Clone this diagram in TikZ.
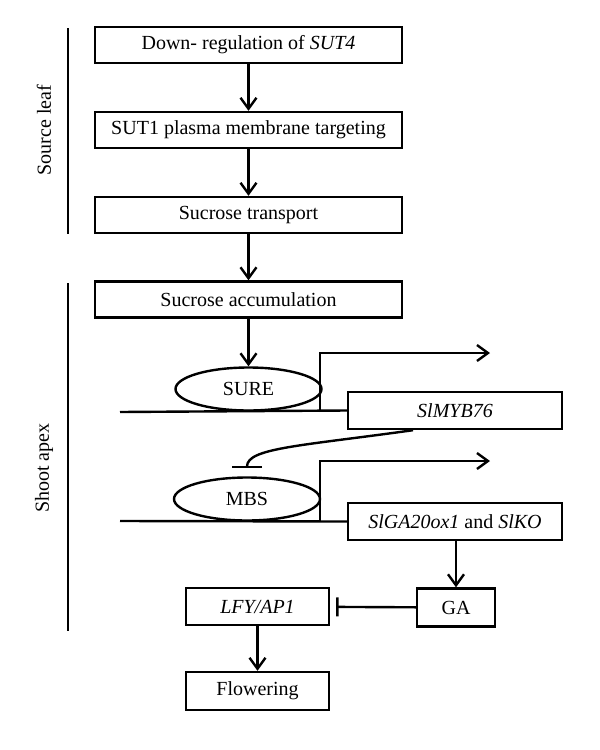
\documentclass[tikz,border=0pt]{standalone}
\usepackage{fontspec}
\setmainfont{Liberation Serif}
\usetikzlibrary{shapes.geometric,arrows.meta}
\begin{document}
\begin{tikzpicture}[x=1pt, y=-1pt, line width=2.4pt, font=\fontsize{20}{24}\selectfont,
  step box/.style={rectangle,draw,minimum width=307pt,minimum height=36pt,inner sep=0pt},
  gene box/.style={rectangle,draw,minimum width=214pt,minimum height=37pt,inner sep=0pt},
  small box/.style={rectangle,draw,minimum height=38pt,inner sep=0pt},
  site node/.style={ellipse,draw,minimum width=146pt,minimum height=43pt,inner sep=0pt},
  act/.style={-{Straight Barb[length=11pt,width=16pt]}},
  inhibit/.style={-{Bar[width=30pt]}}]%flat lines, v-shaped heads
\useasboundingbox (0,0) rectangle (600,750);
% source leaf part
\node[step box] (down) at (248.5,45) {Down- regulation of \textit{SUT4}};
\node[step box] (sut1) at (248.5,130) {SUT1 plasma membrane targeting};
\node[step box] (trans) at (248.5,215) {Sucrose transport};
\node[step box] (accum) at (248.5,299.5) {Sucrose accumulation};
\draw[act] (down) -- (sut1);
\draw[act] (sut1) -- (trans);
\draw[act] (trans) -- (accum);
% shoot apex part
\node[site node] (sure) at (248.5,389) {SURE};
\node[gene box] (myb) at (455,410.5) {\textit{SlMYB76}};
\coordinate (dna1) at (120,412);
\coordinate (tss1) at (320,412);
\coordinate (run1) at (490,353);
\draw (dna1) -- (myb.west);
\draw[act] (tss1) |- (run1);
\draw[act] (accum) -- (sure);
\node[site node] (mbs) at (247,499) {MBS};
\node[gene box] (ga20) at (455,521.5) {\textit{SlGA20ox1} and \textit{SlKO}};
\coordinate (dna2) at (120,521);
\coordinate (tss2) at (320,521);
\coordinate (run2) at (490,461);
\draw (dna2) -- (ga20.west);
\draw[act] (tss2) |- (run2);
\draw[inhibit, shorten >=8pt] ([xshift=-42pt]myb.south) .. controls (300,446) and (247,448) .. (mbs.north);
\node[small box, minimum width=78pt] (ga) at (456,607.5) {GA};
\node[small box, minimum width=143pt, minimum height=37pt] (lfy) at (257.5,606.5) {\textit{LFY/AP1}};
\node[small box, minimum width=143pt] (flower) at (257.5,691) {Flowering};
\draw[act] (ga20.south -| ga.north) -- (ga);
\draw[inhibit, shorten >=6pt, -{Bar[width=19pt]}] (ga) -- (lfy);
\draw[act] (lfy) -- (flower);
% side brackets
\coordinate (leaf top) at (68,28);
\coordinate (leaf end) at (68,234);
\coordinate (apex top) at (68,283);
\coordinate (apex end) at (68,631);
\draw (leaf top) -- (leaf end);
\draw (apex top) -- (apex end);
\node[rotate=90] (leaf) at (44,130) {Source leaf};
\node[rotate=90] (apex) at (44,468) {Shoot apex};
\end{tikzpicture}
\end{document}
